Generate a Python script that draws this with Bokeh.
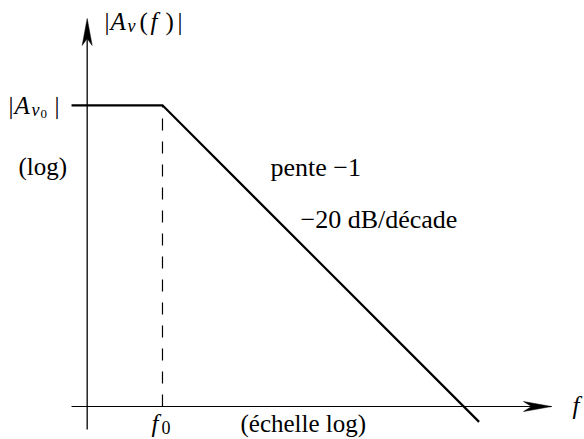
import numpy as np
from bokeh.plotting import figure
from bokeh.models import Range1d, Label
from bokeh.embed import file_html
from bokeh.resources import INLINE

# Asymptotic Bode magnitude of a first-order low-pass (log-log)
f0 = 10.0                       # corner frequency
A0 = 1.0e4                      # pass-band gain |A_v0|
freq = [0.62, f0, 1.6e5]        # breakpoints of the asymptote
gain = [A0, A0, 0.625]          # flat, then slope -1 (-20 dB/decade)

# axes: origin at f = 1, |A| = 1
f_axis = [0.62, 10 ** 6.166]
a_axis = [10 ** -0.305, 10 ** 5.153]

W, H = 584, 439
x_lo, x_hi = 10 ** -1.151, 10 ** 6.604
y_lo, y_hi = 10 ** -0.438, 10 ** 5.392
D = W / (np.log10(x_hi) - np.log10(x_lo))   # pixels per decade

p = figure(width=W, height=H, x_axis_type="log", y_axis_type="log",
           x_range=Range1d(x_lo, x_hi), y_range=Range1d(y_lo, y_hi),
           x_axis_location=None, y_axis_location=None,
           output_backend="svg", toolbar_location=None, min_border=0)
p.grid.visible = False
p.outline_line_color = None
p.background_fill_color = "white"
p.border_fill_color = "white"


def sx(v, dpx):
    return v * 10 ** (dpx / D)


def sy(v, dpx):
    return v * 10 ** (-dpx / D)


# frequency axis with stealth arrowhead
p.line(f_axis, [1, 1], line_color="black", line_width=1.1)
ft = f_axis[1]
p.patch([ft, sx(ft, -28), sx(ft, -20), sx(ft, -28)],
        [1, sy(1, -5), 1, sy(1, 5)], fill_color="black", line_color="black", line_width=0.5)

# magnitude axis with stealth arrowhead
p.line([1, 1], [a_axis[0], sy(a_axis[1], 10)], line_color="black", line_width=1.3)
at = a_axis[1]
p.patch([1, sx(1, -5), 1, sx(1, 5)],
        [at, sy(at, 27), sy(at, 20), sy(at, 27)], fill_color="black", line_color="black", line_width=0.5)

# corner frequency marker
p.line([f0, f0], [1, A0], line_color="black", line_width=1.2, line_dash="12 11")

# asymptotic magnitude
p.line(freq, gain, line_color="black", line_width=2.2, line_join="miter")

FONT = "Liberation Serif"
DY = 8   # baseline correction for label placement


def put(x, y, s, size=25, style="normal"):
    p.add_layout(Label(x=x, y=H - y + DY, x_units="screen", y_units="screen", text=s,
                       text_font=FONT, text_font_size=f"{size}px", text_font_style=style,
                       text_baseline="alphabetic", text_align="left", text_color="black"))


# |A_v(f)|
put(104, 29, "|")
put(110, 29, "A", style="italic")
put(127, 33, "v", size=18, style="italic")
put(139, 29, "(")
put(150, 29, "f", style="italic")
put(165, 29, ")")
put(177, 29, "|")

# |A_v0|
put(8, 113, "|")
put(14, 113, "A", style="italic")
put(31, 117, "v", size=18, style="italic")
put(40, 121, "0", size=13)
put(54, 113, "|")

put(18, 174, "(log)")
put(270, 175, "pente  \u22121", size=26)
put(300, 227, "\u221220  dB/décade", size=26)

# frequency axis labels
put(572, 413, "f", style="italic")
put(151, 431, "f", style="italic")
put(161, 435, "0", size=18)
put(240, 431, "(échelle log)")

open("out.html", "w").write(file_html(p, INLINE))
